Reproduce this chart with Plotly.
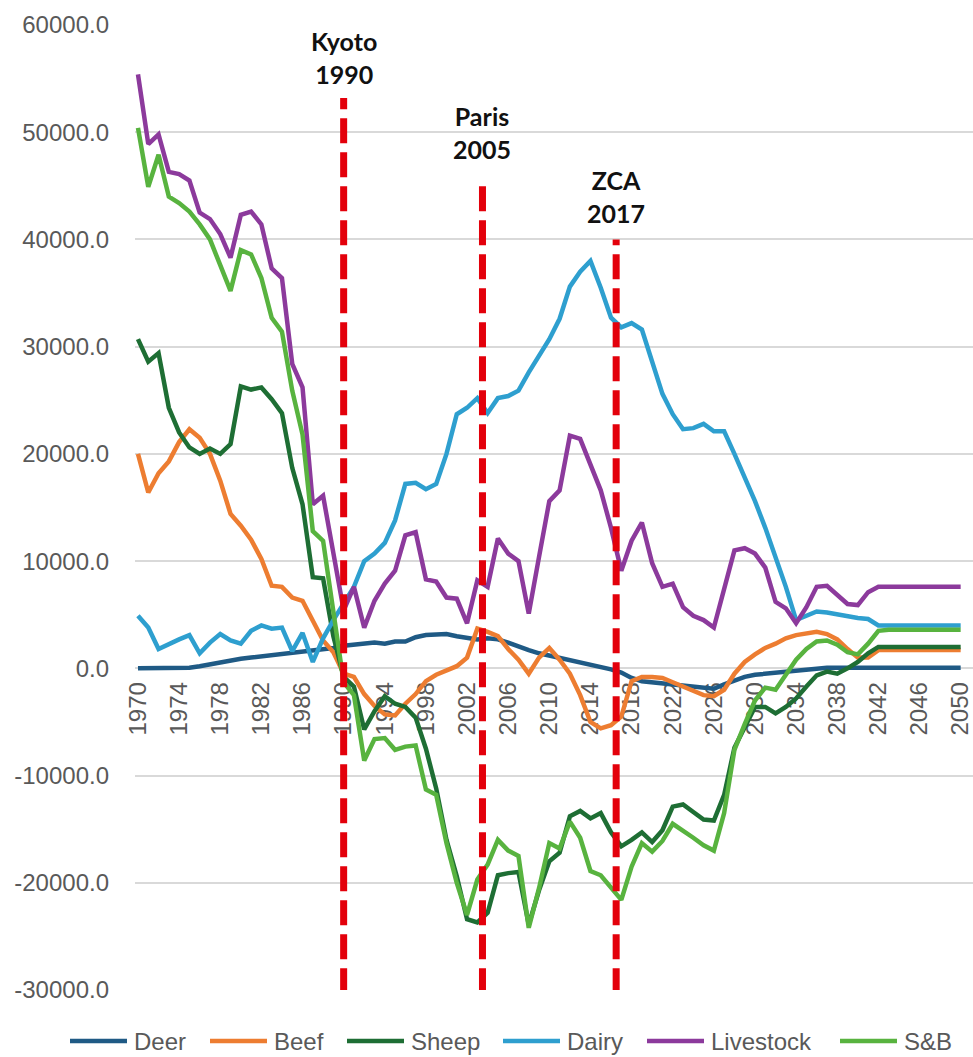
import plotly.graph_objects as go

years = list(range(1970, 2051))

deer = [0, 0, 0, 0, 0, 50, 200, 400, 600, 700,
        900, 1000, 1100, 1200, 1300, 1400, 1600, 1600, 1700, 1900,
        2100, 2200, 2200, 2400, 2300, 2500, 2500, 2900, 3100, 3200,
        3200, 3000, 2800, 2700, 2800, 2700, 2400, 2000, 1700, 1400,
        1200, 1000, 700, 500, 300, 100, -100, -400, -900, -1200,
        -1300, -1400, -1500, -1600, -1700, -1800, -1900, -1500, -1100, -800,
        -600, -500, -400, -300, -200, -100, 0, 50, 50, 50,
        50, 50, 50, 50, 50, 50, 50, 50, 50, 50, 50]

beef = [20000, 16400, 18200, 19300, 21100, 22300, 21500, 20000, 17500, 14400,
        13300, 12000, 10200, 7700, 7600, 6600, 6300, 4500, 2600, 1500,
        -500, -800, -2400, -3500, -4300, -4400, -3300, -2400, -1200, -600,
        -200, 200, 1000, 3700, 3400, 3000, 1800, 800, -500, 1000,
        1900, 800, -500, -2500, -5000, -5600, -5300, -4500, -1200, -800,
        -800, -900, -1300, -1700, -2100, -2500, -2600, -2000, -500, 600,
        1300, 1900, 2300, 2800, 3100, 3300, 3400, 3200, 2700, 1800,
        1000, 1000, 1700, 1700, 1700, 1700, 1700, 1700, 1700, 1700, 1700]

sheep = [30700, 28600, 29400, 24300, 22000, 20600, 20000, 20500, 20000, 20900,
         26300, 26000, 26200, 25100, 23800, 18700, 15300, 8500, 8400, 3000,
         -800, -1700, -5700, -4000, -2600, -3300, -3600, -4600, -7500, -11200,
         -16000, -19400, -23400, -23700, -22800, -19300, -19100, -19000, -23900, -20700,
         -18000, -17200, -13800, -13300, -14000, -13500, -15300, -16600, -16000, -15300,
         -16200, -15100, -12900, -12700, -13400, -14100, -14200, -11800, -7400, -5500,
         -3600, -3600, -4200, -3600, -2800, -1700, -650, -300, -500, 0,
         600, 1400, 2000, 2000, 2000, 2000, 2000, 2000, 2000, 2000, 2000]

dairy = [4900, 3800, 1800, 2300, 2700, 3100, 1400, 2400, 3200, 2600,
         2300, 3500, 4000, 3700, 3800, 1600, 3300, 600, 2800, 4500,
         6000, 7600, 10000, 10700, 11700, 13800, 17200, 17300, 16700, 17200,
         20000, 23700, 24300, 25200, 23800, 25200, 25400, 25900, 27600, 29100,
         30700, 32600, 35600, 37000, 38000, 35500, 32700, 31800, 32200, 31600,
         28700, 25600, 23700, 22300, 22400, 22800, 22100, 22100, 20000, 17800,
         15600, 13100, 10400, 7600, 4500, 4900, 5300, 5200, 5000, 4800,
         4700, 4600, 4000, 4000, 4000, 4000, 4000, 4000, 4000, 4000, 4000]

livestock = [55400, 48900, 49800, 46300, 46100, 45500, 42500, 41900, 40500, 38300,
             42300, 42600, 41400, 37300, 36400, 28400, 26200, 15300, 16100, 10500,
             5400, 7600, 3800, 6300, 7900, 9100, 12400, 12700, 8300, 8100,
             6600, 6500, 4200, 8200, 7600, 12100, 10700, 10000, 5100, 10400,
             15600, 16600, 21700, 21400, 19100, 16600, 13100, 9100, 11900, 13600,
             9800, 7600, 7900, 5700, 4900, 4500, 3800, 7600, 11000, 11200,
             10700, 9400, 6200, 5600, 4200, 5700, 7600, 7700, 6800, 6000,
             5900, 7100, 7600, 7600, 7600, 7600, 7600, 7600, 7600, 7600, 7600]

snb = [50400, 44900, 47900, 44000, 43400, 42600, 41400, 40000, 37600, 35200,
       39000, 38600, 36400, 32700, 31400, 25900, 21800, 12800, 11900, 5500,
       -1300, -2500, -8600, -6600, -6500, -7600, -7300, -7200, -11300, -11800,
       -16300, -20000, -23000, -19700, -18300, -16000, -17000, -17500, -24200, -20500,
       -16300, -16800, -14300, -15800, -18900, -19300, -20500, -21600, -18500, -16300,
       -17100, -16100, -14500, -15100, -15800, -16500, -17000, -13500, -7600, -5200,
       -3000, -1800, -2000, -600, 800, 1800, 2500, 2600, 2200, 1500,
       1300, 2300, 3500, 3600, 3600, 3600, 3600, 3600, 3600, 3600, 3600]

series_names = ["Deer", "Beef", "Sheep", "Dairy", "Livestock", "S&B"]
series_values = [deer, beef, sheep, dairy, livestock, snb]
series_colors = ["#1f5a85", "#ed7d31", "#1e6e34", "#2e9fcf", "#8c3a9c", "#58b33f"]

x_tick_vals = list(range(1970, 2051, 4))
y_tick_vals = [-30000, -20000, -10000, 0, 10000, 20000, 30000, 40000, 50000, 60000]
y_tick_text = ["-30000.0", "-20000.0", "-10000.0", "0.0", "10000.0",
               "20000.0", "30000.0", "40000.0", "50000.0", "60000.0"]

event_text = ["Kyoto<br>1990", "Paris<br>2005", "ZCA<br>2017"]
event_x = [1990, 2003.5, 2016.5]
event_line_top = [53200, 45000, 40000]
event_label_y = [57000, 50000, 44000]
event_line_bottom = -30300

# figure geometry (pixels)
W, H = 973, 1057
L, R, T, B = 135, 0, 25, 67
plot_w = W - L - R
plot_h = H - T - B

# legend layout (pixel positions of each entry's line start)
legend_line_start_px = [70, 210, 347, 503, 647, 840]
legend_line_len_px = 57
legend_text_gap_px = 6
legend_center_y_px = 1041

tick_font = dict(family="Liberation Sans, Arial, sans-serif", size=24, color="#595959")

fig = go.Figure()
for name, vals, col in zip(series_names, series_values, series_colors):
    fig.add_trace(go.Scatter(x=years, y=vals, mode="lines", name=name,
                             line=dict(color=col, width=4.5), showlegend=False))

for txt, ex, top, ly in zip(event_text, event_x, event_line_top, event_label_y):
    fig.add_shape(type="line", xref="x", yref="y", x0=ex, x1=ex,
                  y0=event_line_bottom, y1=top,
                  line=dict(color="#e3000b", width=7, dash="25px,9px"))
    fig.add_annotation(x=ex, y=ly, xref="x", yref="y", text=txt, showarrow=False,
                       xanchor="center", yanchor="middle",
                       font=dict(family="Lato", size=25, color="#111111", weight=700))

# legend drawn as line segments + labels below the plot
ly_paper = (H - B - legend_center_y_px) / plot_h
for name, col, x0px in zip(series_names, series_colors, legend_line_start_px):
    x0 = (x0px - L) / plot_w
    x1 = (x0px + legend_line_len_px - L) / plot_w
    fig.add_shape(type="line", xref="paper", yref="paper", x0=x0, x1=x1,
                  y0=ly_paper, y1=ly_paper, line=dict(color=col, width=4.5))
    fig.add_annotation(x=(x0px + legend_line_len_px + legend_text_gap_px - L) / plot_w,
                       y=ly_paper, xref="paper", yref="paper", text=name,
                       showarrow=False, xanchor="left", yanchor="middle",
                       borderpad=0, font=tick_font)

fig.update_layout(
    width=W, height=H,
    margin=dict(l=L, r=R, t=T, b=B, autoexpand=False),
    plot_bgcolor="white", paper_bgcolor="white",
    showlegend=False,
    xaxis=dict(range=[1969.71, 2051.2], tickmode="array", tickvals=x_tick_vals,
               tickangle=-90, anchor="free", position=1/3, showgrid=False,
               zeroline=False, showline=False, ticks="", tickfont=tick_font,
               layer="below traces", ticklabelstandoff=8, ticklabeloverflow="allow",
               automargin=False),
    yaxis=dict(range=[-30000, 60000], tickmode="array", tickvals=y_tick_vals,
               ticktext=y_tick_text, showgrid=True, gridcolor="#d9d9d9", gridwidth=1.5,
               zeroline=False, showline=False, ticks="", tickfont=tick_font,
               ticklabelstandoff=25, automargin=False),
)

fig.write_html(
    "out.html",
    config={"displayModeBar": False},
    post_script="document.body.style.margin='0';document.body.style.overflow='hidden';"
                "document.documentElement.style.overflow='hidden';",
)
